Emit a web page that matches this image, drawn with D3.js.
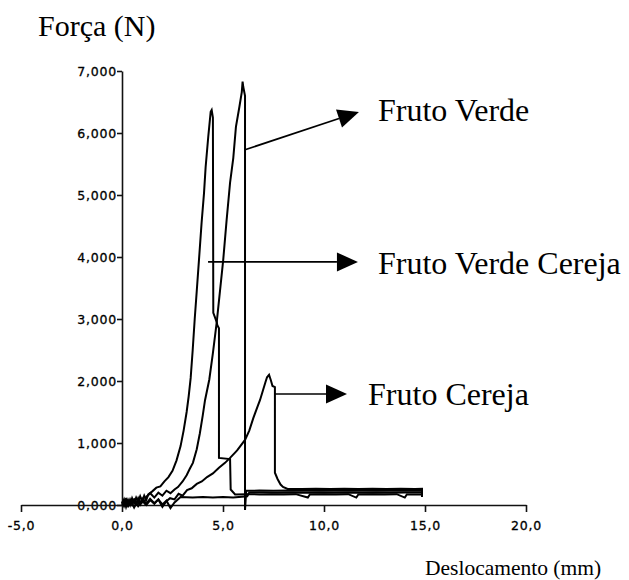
<!DOCTYPE html>
<html><head><meta charset="utf-8">
<script src="https://cdn.jsdelivr.net/npm/d3@7"></script>
<style>body{margin:0;background:#fff} svg{display:block}</style>
</head><body><svg id="c" width="629" height="580"></svg>
<script>
// ---- data: [displacement (mm), force (axis units)] ----
const xTicks = [-5, 0, 5, 10, 15, 20];
const yTicks = [0, 1, 2, 3, 4, 5, 6, 7];

// Fruto Verde Cereja
const verdeCerejaPts = [
  [0.0,0.02],[0.1,0.09],[0.2,-0.03],[0.3,0.08],[0.4,0.0],[0.5,0.11],[0.6,0.03],[0.7,0.12],[0.8,0.05],[0.9,0.14],[1.0,0.06],[1.1,0.15],[1.2,0.08],[1.3,0.17],
  [1.5,0.22],[1.7,0.28],[1.9,0.30],[2.1,0.38],[2.3,0.45],[2.5,0.55],[2.7,0.72],[2.9,0.95],[3.05,1.2],[3.2,1.5],[3.3,1.75],[3.4,2.05],[3.5,2.5],[3.6,3.0],[3.7,3.45],
  [3.81,3.95],[3.94,4.55],[4.06,5.03],[4.14,5.45],[4.27,5.94],[4.39,6.34],[4.44,6.37],[4.50,6.25],[4.52,3.1],[4.69,2.95],[4.72,2.9],[4.8,2.85],[4.8,0.76],[5.35,0.74],[5.38,0.25],
  [5.6,0.17],[6.2,0.175],[6.8,0.17],[7.4,0.175],[8.0,0.17],[8.6,0.175],[9.2,0.12],[9.3,0.17],[10.0,0.175],[10.6,0.17],[11.2,0.175],[11.6,0.12],[11.7,0.17],[12.4,0.175],
  [13.0,0.17],[13.6,0.175],[14.0,0.12],[14.1,0.17],[14.85,0.17],[14.85,0.26]
];

// Fruto Verde
const verdePts = [
  [0.0,0.05],[0.1,-0.02],[0.2,0.07],[0.3,0.0],[0.4,0.09],[0.5,0.01],[0.6,0.08],[0.7,0.02],[0.8,0.11],[0.9,0.03],[1.0,0.10],[1.1,0.04],[1.2,0.13],[1.4,0.19],[1.6,0.12],[1.8,0.20],[2.0,0.15],
  [2.2,0.23],[2.4,0.19],[2.6,0.25],[2.77,0.29],[3.0,0.38],[3.2,0.48],[3.35,0.58],[3.51,0.68],[3.7,0.9],[3.85,1.15],[4.0,1.45],[4.11,1.69],[4.32,2.02],[4.5,2.45],[4.69,2.95],
  [4.85,3.45],[5.01,3.95],[5.18,4.6],[5.35,5.2],[5.51,5.6],[5.64,6.1],[5.81,6.42],[5.93,6.66],[5.97,6.83],[6.0,6.75],[6.09,6.6],[6.09,-0.08],[6.15,0.23],
  [6.8,0.232],[7.5,0.228],[8.2,0.232],[8.9,0.228],[9.6,0.232],[10.3,0.228],[11.0,0.232],[11.7,0.228],[12.4,0.232],[13.1,0.228],[13.8,0.232],[14.5,0.228],[14.85,0.23],[14.85,0.13]
];

// Fruto Cereja
const cerejaPts = [
  [0.0,0.0],[0.15,0.07],[0.3,-0.02],[0.45,0.06],[0.6,-0.04],[0.75,0.05],[0.9,0.0],[1.05,0.08],[1.2,0.02],[1.39,0.10],[1.6,0.03],[1.8,0.09],[2.0,-0.03],[2.2,0.06],[2.38,0.11],
  [2.6,0.09],[2.8,0.18],[3.0,0.15],[3.22,0.24],[3.45,0.27],[3.7,0.34],[3.95,0.38],[4.21,0.45],[4.5,0.51],[4.8,0.6],[5.1,0.68],[5.35,0.76],[5.7,0.88],[6.09,1.05],[6.3,1.2],
  [6.5,1.4],[6.7,1.58],[6.83,1.69],[6.98,1.85],[7.1,1.98],[7.18,2.06],[7.28,2.10],[7.38,2.0],[7.45,1.92],[7.57,1.9],[7.57,0.52],[7.7,0.42],[7.85,0.33],[7.97,0.29],[8.2,0.26],
  [8.9,0.258],[9.6,0.262],[10.3,0.258],[11.0,0.262],[11.7,0.258],[12.4,0.262],[13.1,0.258],[13.8,0.262],[14.5,0.258],[14.85,0.26],[14.85,0.19]
];

// low trace visible under the curves
const extraPts = [
  [0.0,0.04],[0.2,0.10],[0.4,0.02],[0.6,0.09],[0.8,-0.02],[1.0,0.07],[1.2,0.0],[1.4,0.08],[1.6,0.02],[1.8,0.09],[2.0,0.01],[2.2,0.07],[2.4,-0.05],[2.6,0.04],[2.9,0.13],
  [3.5,0.12],[4.0,0.13],[4.5,0.12],[5.0,0.13],[5.5,0.12],[6.2,0.14],[6.3,0.20],[7.0,0.202],[7.7,0.198],[8.4,0.202],[9.1,0.198],[9.8,0.202],[10.5,0.198],[11.2,0.202],[11.9,0.198],
  [12.6,0.202],[13.3,0.198],[14.0,0.202],[14.85,0.20]
];

// annotations: label, arrow start (d,F), arrow tip (d,F), text anchor (d,F)
const labels = ["Fruto Verde", "Fruto Verde Cereja", "Fruto Cereja"];
const arrowFrom = [[6.09, 5.73], [4.26, 3.92], [7.57, 1.79]];
const arrowTo = [[11.73, 6.34], [11.68, 3.92], [11.14, 1.79]];
const labelAt = [[12.67, 6.2], [12.67, 3.72], [12.18, 1.61]];

// ---- drawing ----
const svg = d3.select('#c');
const x = d3.scaleLinear().domain([-5, 20]).range([21, 526]);
const y = d3.scaleLinear().domain([0, 7]).range([505, 71]);

const fmtY = d => d3.format('.3f')(d).replace('.', ',');
const fmtX = d => d3.format('.1f')(d).replace('.', ',').replace('\u2212', '-');

const yAxis = svg.append('g').attr('transform', `translate(${x(0)},0)`)
  .call(d3.axisLeft(y).tickValues(yTicks).tickSize(5).tickSizeOuter(0).tickPadding(0).tickFormat(fmtY));
const xAxis = svg.append('g').attr('transform', `translate(0,${y(0)})`)
  .call(d3.axisBottom(x).tickValues(xTicks).tickSize(7).tickSizeOuter(0).tickPadding(9).tickFormat(fmtX));

[yAxis, xAxis].forEach(g => {
  g.selectAll('path,line').attr('stroke', '#111').attr('stroke-width', 1.6);
  g.selectAll('text').attr('font-family', 'DejaVu Sans').attr('font-size', 12.5)
    .attr('fill', '#000').attr('stroke', '#000').attr('stroke-width', 0.3)
    .style('letter-spacing', '0.8px');
});

const line = d3.line().x(p => x(p[0])).y(p => y(p[1]));
[extraPts, cerejaPts, verdeCerejaPts, verdePts].forEach(pts => {
  svg.append('path').datum(pts)
    .attr('d', line).attr('fill', 'none').attr('stroke', '#000')
    .attr('stroke-width', 2).attr('stroke-linejoin', 'miter');
});

// arrows + labels
labels.forEach((lab, i) => {
  const x1 = x(arrowFrom[i][0]), y1 = y(arrowFrom[i][1]);
  const x2 = x(arrowTo[i][0]), y2 = y(arrowTo[i][1]);
  const ang = Math.atan2(y2 - y1, x2 - x1);
  const L = 21, W = 9.5;
  const bx = x2 - L * Math.cos(ang), by = y2 - L * Math.sin(ang);
  svg.append('line').attr('x1', x1).attr('y1', y1).attr('x2', bx).attr('y2', by)
    .attr('stroke', '#000').attr('stroke-width', 1.7);
  const p1 = [bx + W * Math.sin(ang), by - W * Math.cos(ang)];
  const p2 = [bx - W * Math.sin(ang), by + W * Math.cos(ang)];
  svg.append('polygon').attr('points', [[x2, y2], p1, p2].map(p => p.join(',')).join(' '))
    .attr('fill', '#000');
  svg.append('text').attr('x', x(labelAt[i][0])).attr('y', y(labelAt[i][1]))
    .attr('font-family', 'Liberation Serif').attr('font-size', 32).attr('fill', '#000')
    .text(lab);
});

svg.append('text').attr('x', 38).attr('y', 36)
  .attr('font-family', 'Liberation Serif').attr('font-size', 30).attr('fill', '#000')
  .text('Força (N)');
svg.append('text').attr('x', 425).attr('y', 575)
  .attr('font-family', 'Liberation Serif').attr('font-size', 21.5).attr('fill', '#000')
  .text('Deslocamento (mm)');
</script>
</body></html>
